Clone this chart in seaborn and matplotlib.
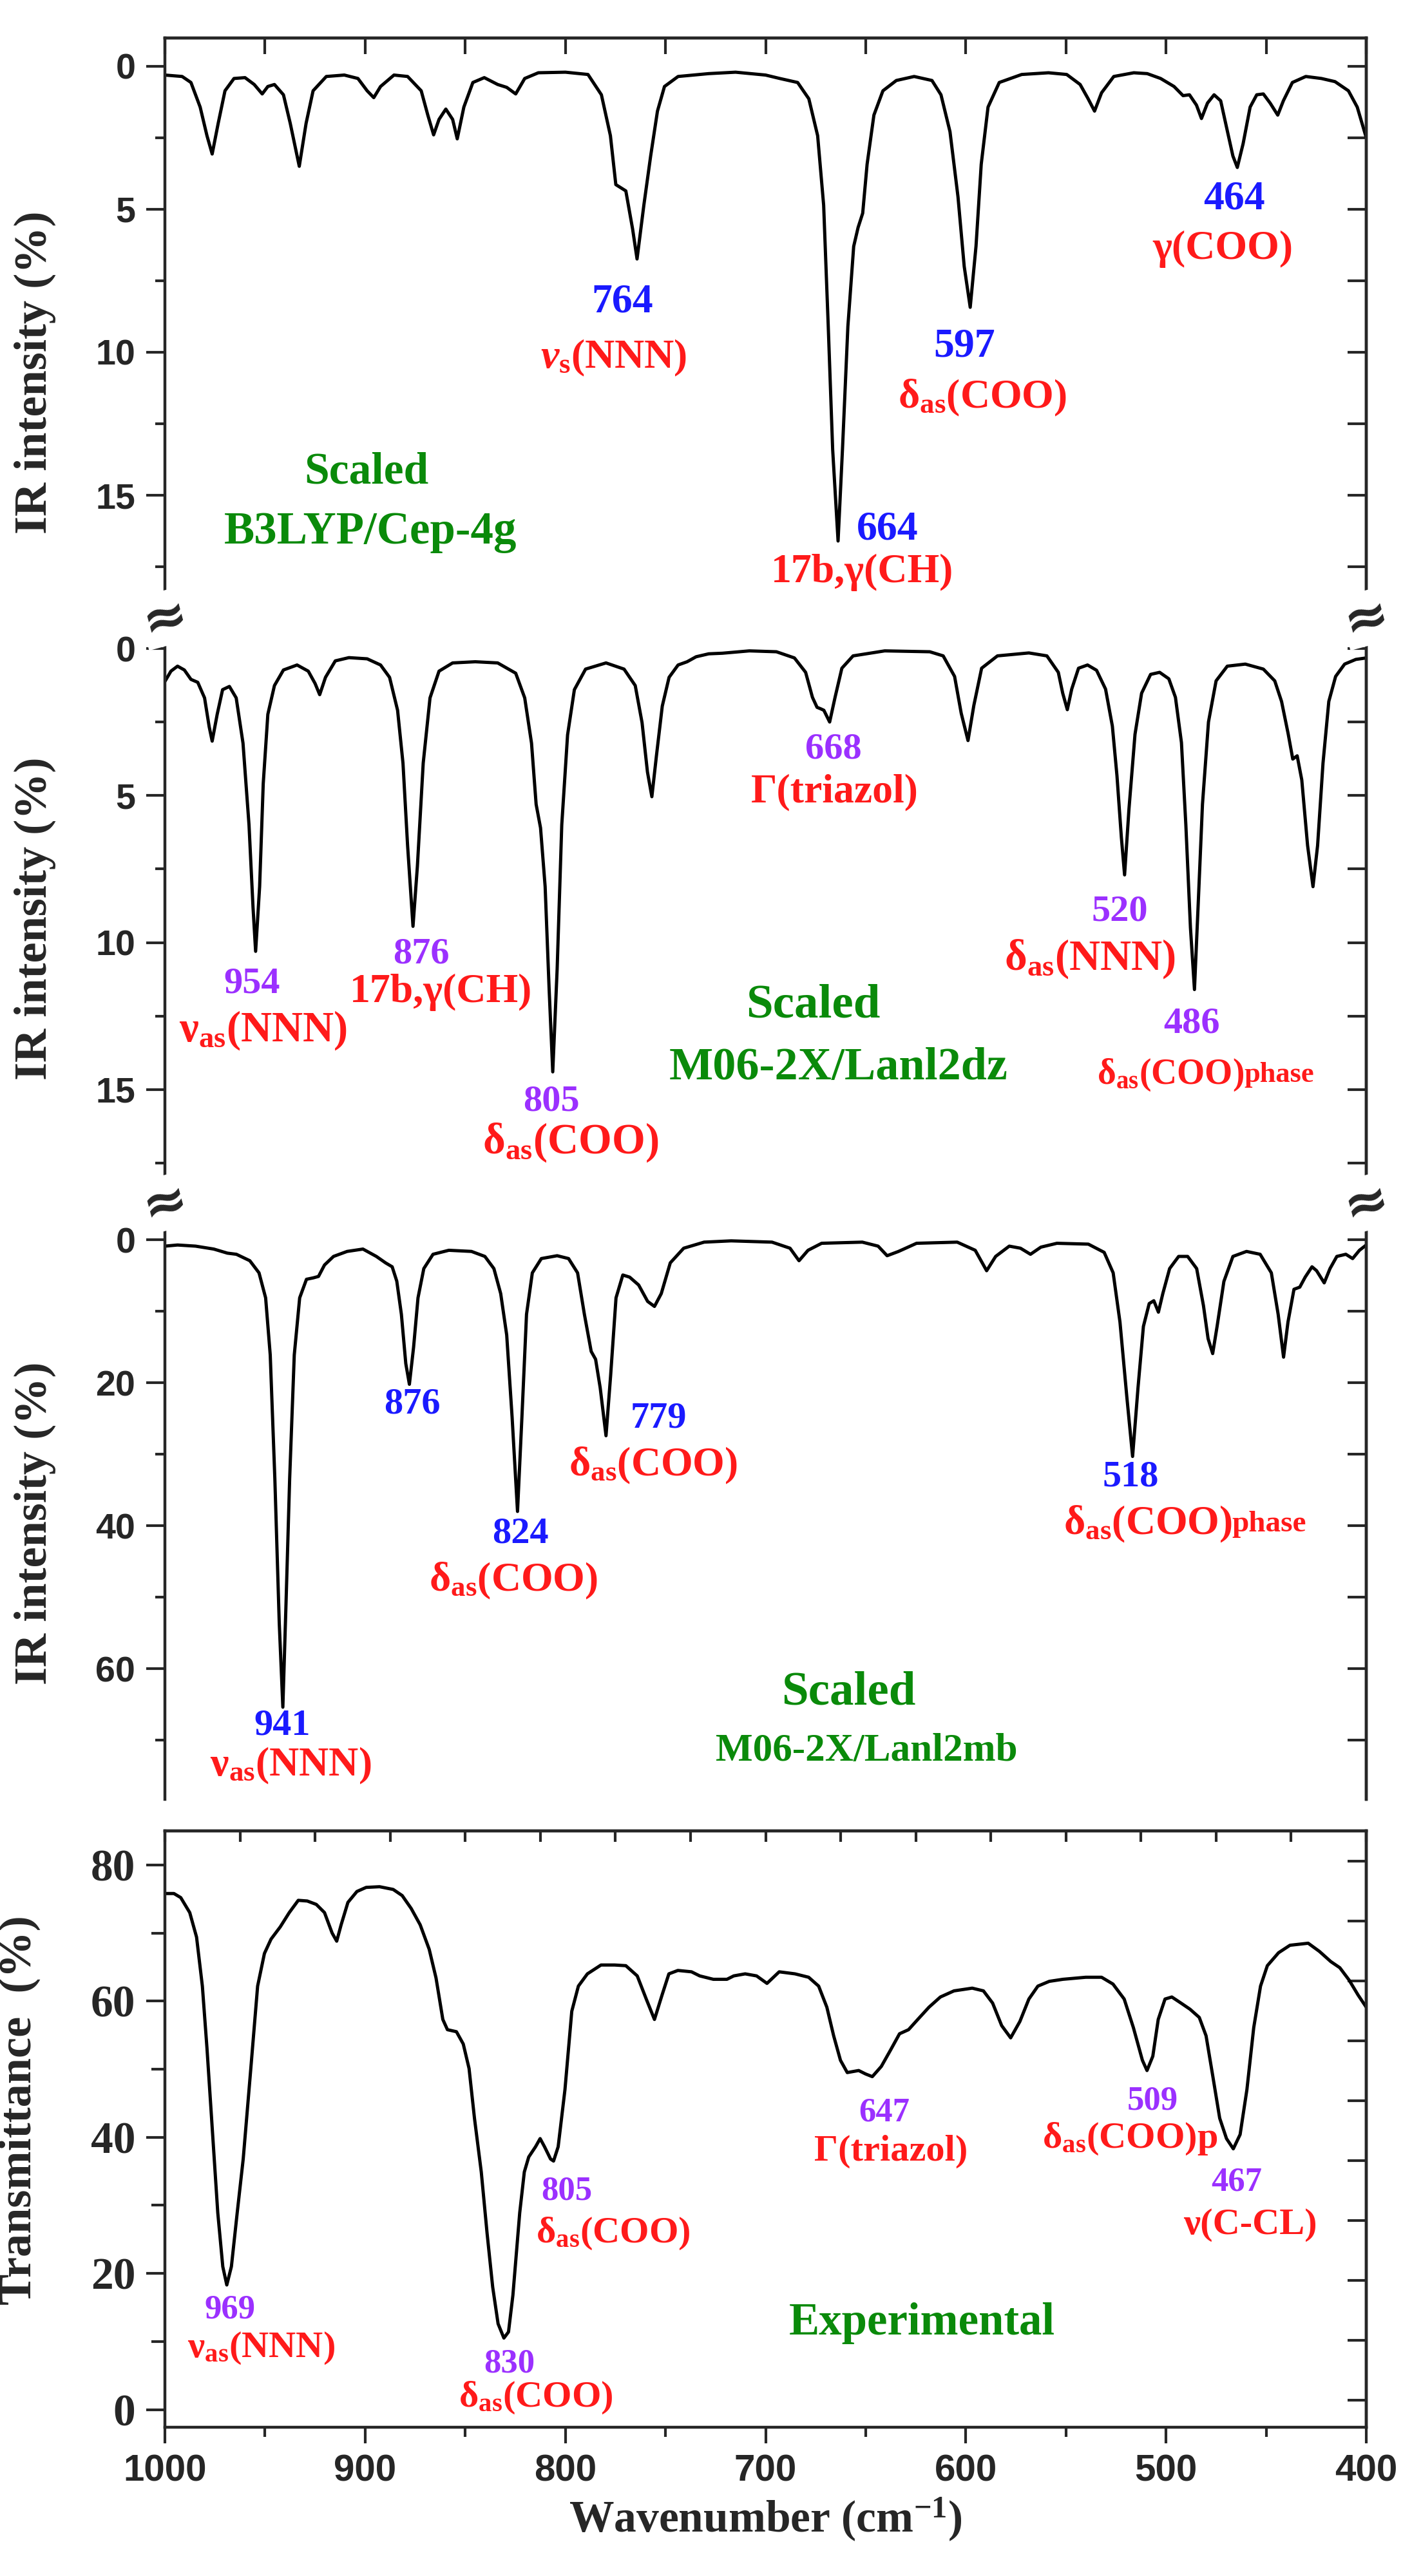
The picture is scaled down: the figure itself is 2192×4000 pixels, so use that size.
import numpy as np
import pandas as pd
import matplotlib
matplotlib.use("Agg")
import matplotlib.pyplot as plt
import seaborn as sns
from matplotlib.ticker import MultipleLocator, FixedLocator

sns.set_style("ticks")
plt.rcParams["font.family"] = ["Liberation Serif", "DejaVu Serif"]
plt.rcParams["font.weight"] = "bold"
plt.rcParams["mathtext.fontset"] = "custom"
plt.rcParams["mathtext.rm"] = "Liberation Serif:bold"
plt.rcParams["mathtext.it"] = "Liberation Serif:bold:italic"
plt.rcParams["mathtext.bf"] = "Liberation Serif:bold"

# B3LYP/Cep-4g spectrum (wavenumber, IR intensity %)
wn_b3lyp = [1000, 991.4, 987, 982.4, 979, 976.4, 973.4, 970, 965.5, 960, 955.4, 951.4, 948.6,
            945.3, 940.8, 937.4, 932.9, 929.5, 926, 919.4, 910.4, 903.6, 899, 895.7, 892.3,
            885.6, 878.8, 872, 868.7, 865.8, 863.1, 859.7, 856.3, 854, 850.7, 846.2, 840.5,
            833.8, 829.3, 824.8, 820.3, 813.5, 800, 788.7, 782, 777.5, 774.8, 769.8, 766.4,
            764.2, 760.8, 757.4, 754, 750.5, 743.7, 728.4, 715, 700, 692.9, 684, 678.4, 674,
            671, 668.7, 666.5, 663.8, 661.6, 658.9, 656, 653.8, 651.5, 649.3, 645.9, 641.4,
            634.7, 625.8, 616.9, 612.4, 607.9, 603.9, 600.8, 597.8, 594.9, 592.3, 588.9, 583.3,
            572.1, 558.7, 549.6, 542.9, 538.9, 535.7, 532.2, 526.1, 516.1, 509.4, 502.7, 496,
            491.5, 488.3, 484.8, 482.3, 479.3, 476, 472.7, 469.3, 466.6, 464.4, 461.5, 458,
            454.7, 451.4, 448, 444.2, 441.4, 436.9, 430.2, 422.4, 415.6, 408.9, 404.5, 400]
int_b3lyp = [0.31, 0.36, 0.57, 1.43, 2.43, 3.07, 2.0, 0.86, 0.43, 0.4, 0.64, 0.97, 0.71,
             0.64, 1.0, 2.0, 3.5, 2.0, 0.86, 0.36, 0.31, 0.43, 0.86, 1.1, 0.71,
             0.31, 0.36, 0.86, 1.71, 2.4, 1.86, 1.5, 1.86, 2.54, 1.43, 0.57, 0.4,
             0.64, 0.74, 0.97, 0.43, 0.23, 0.21, 0.29, 1.0, 2.43, 4.14, 4.36, 5.7,
             6.74, 4.86, 3.14, 1.57, 0.71, 0.36, 0.26, 0.21, 0.31, 0.43, 0.57, 1.14, 2.43,
             4.86, 9.1, 13.4, 16.6, 13.4, 9.1, 6.3, 5.64, 5.14, 3.43, 1.71, 0.86,
             0.5, 0.36, 0.5, 1.0, 2.29, 4.57, 7.0, 8.43, 6.29, 3.43, 1.43, 0.57,
             0.29, 0.23, 0.29, 0.64, 1.14, 1.57, 0.93, 0.36, 0.23, 0.26, 0.43, 0.71,
             1.03, 1.0, 1.36, 1.83, 1.29, 1.0, 1.21, 2.29, 3.14, 3.54, 2.71, 1.43,
             1.0, 0.97, 1.29, 1.71, 1.21, 0.57, 0.36, 0.43, 0.54, 0.86, 1.43, 2.5]

# M06-2X/Lanl2dz spectrum
wn_lanl2dz = [1000, 997, 993.7, 990.3, 987, 983.6, 980.2, 977.9, 976.4, 973.9, 971.2, 967.8,
              964.4, 961, 958, 956, 954.7, 952.7, 950.9, 948.6, 945.3, 940.8, 934, 928.4, 925,
              922.7, 919.8, 914.9, 908.1, 899, 892.3, 887.8, 883.8, 881.1, 878.8, 876.1, 873.9,
              871, 867.6, 863.1, 856.3, 845, 833.8, 824.8, 820.3, 816.9, 814.6, 812.4, 810.1,
              808.1, 806.3, 804.1, 801.8, 798.9, 795.5, 789.9, 779.7, 770.7, 765.1, 761.7, 759,
              756.8, 754.5, 751.6, 748.2, 743.7, 739.2, 734.7, 728.4, 721.6, 708.1, 694.6, 685.6,
              680, 676.6, 674.3, 672.5, 670.9, 668, 665.3, 661.9, 656.3, 640.5, 618, 611.3,
              605.6, 602.3, 598.9, 596, 592.1, 584.2, 568.5, 559.5, 553.8, 551.6, 549.3, 547.1,
              543.7, 539.2, 534.7, 530.2, 526.8, 524.5, 522.3, 520.7, 518.5, 515.5, 512.2,
              507.7, 503.2, 498.6, 495.3, 492.3, 490.1, 487.8, 485.8, 484, 481.8, 478.8, 475,
              469.4, 460.4, 451.4, 445.7, 442.3, 439, 436.7, 434.5, 432.2, 429.3, 426.6, 424.3,
              421.6, 418.7, 415.3, 410.8, 405.2, 400]
int_lanl2dz = [1.12, 0.77, 0.6, 0.73, 1.05, 1.15, 1.68, 2.66, 3.15, 2.24, 1.4, 1.29,
               1.68, 3.22, 6.0, 8.8, 10.3, 8.1, 4.6, 2.24, 1.26, 0.73, 0.56, 0.77, 1.19,
               1.57, 0.98, 0.42, 0.31, 0.35, 0.56, 0.98, 2.1, 3.9, 6.7, 9.45, 7.4,
               3.9, 1.68, 0.77, 0.49, 0.45, 0.49, 0.84, 1.68, 3.22, 5.3, 6.1, 8.1,
               11.6, 14.4, 10.9, 6.0, 2.94, 1.4, 0.7, 0.49, 0.7, 1.26, 2.52, 4.2,
               5.04, 3.64, 1.96, 0.98, 0.56, 0.45, 0.28, 0.18, 0.16, 0.08, 0.11, 0.32,
               0.81, 1.66, 2.0, 2.05, 2.1, 2.5, 1.66, 0.67, 0.25, 0.08, 0.11, 0.25,
               0.95, 2.2, 3.13, 1.94, 0.67, 0.25, 0.15, 0.25, 0.81, 1.52, 2.08, 1.38,
               0.67, 0.56, 0.74, 1.38, 2.64, 4.33, 6.43, 7.7, 5.45, 2.92, 1.52,
               0.88, 0.81, 1.03, 1.66, 3.2, 6.0, 9.5, 11.6, 8.8, 5.3, 2.5, 1.1,
               0.6, 0.53, 0.7, 1.1, 1.8, 2.9, 3.76, 3.65, 4.47, 6.7, 8.1, 6.7,
               3.9, 1.8, 0.95, 0.53, 0.37, 0.32]

# M06-2X/Lanl2mb spectrum
wn_lanl2mb = [1000, 993.7, 984.7, 975.6, 968.8, 964.3, 957.6, 953, 949.7, 947.4, 945.1, 942.9,
              941.1, 939.5, 937.7, 935.4, 932.7, 929.3, 925.9, 923.3, 920.3, 915.8, 909, 901.1,
              894.4, 889.8, 886.5, 884.2, 881.9, 879.7, 877.9, 875.8, 873.6, 870.7, 866.1,
              858.2, 846.9, 840.2, 835.7, 832.3, 829.3, 826.6, 823.9, 821.7, 819.4, 816.5, 812,
              804.1, 798.4, 793.9, 790.5, 787.1, 784.9, 782.6, 779.7, 777.4, 774.7, 771.3,
              767.9, 763.4, 758.9, 755.5, 752.1, 747.6, 740.9, 730.7, 717.2, 696.8, 687.8,
              683.3, 678.8, 672, 651.7, 643.8, 639.3, 633.6, 624.6, 604.3, 595.3, 589.6, 585.1,
              578.3, 572.7, 567.7, 562.5, 554.5, 538.8, 530.9, 526.4, 523, 519.6, 516.7, 514,
              511.3, 508.4, 506.1, 503.8, 501.6, 498.2, 493.7, 489.2, 484.7, 481.3, 479, 476.7,
              474.5, 471.1, 466.6, 459.8, 453, 447.4, 444, 441.3, 439.1, 436.1, 433.2, 430.5,
              427.1, 424.8, 421, 418.1, 414.7, 410.2, 406.8, 403.4, 400]
int_lanl2mb = [0.86, 0.7, 0.86, 1.27, 1.84, 2.0, 2.9, 4.6, 8.1, 16.1, 33.4, 53.6,
               65.4, 50.7, 33.4, 16.1, 8.1, 5.5, 5.3, 5.1, 3.5, 2.3, 1.6, 1.27,
               2.3, 3.2, 3.75, 5.76, 10.4, 17.3, 20.2, 15.0, 8.1, 4.0, 2.0,
               1.44, 1.6, 2.3, 4.0, 7.5, 13.3, 24.8, 38.0, 24.8, 10.4, 4.6, 2.6,
               2.2, 2.6, 4.6, 10.4, 15.6, 16.7, 20.7, 27.4, 19.0, 8.1, 4.9,
               5.2, 6.3, 8.6, 9.3, 7.5, 3.2, 1.15, 0.3, 0.12, 0.3, 1.15,
               2.9, 1.44, 0.46, 0.3, 0.86, 2.2, 1.6, 0.46, 0.3, 1.44, 4.3, 2.3,
               0.86, 1.15, 2.0, 1.0, 0.46, 0.58, 1.73, 4.6, 11.5, 21.9, 30.3, 20.7,
               12.1, 8.9, 8.5, 10.1, 7.5, 4.0, 2.3, 2.3, 4.0, 9.2, 13.8, 15.9,
               12.1, 5.8, 2.3, 1.6, 2.0, 4.6, 10.4, 16.4, 11.5, 6.9, 6.6, 5.2,
               3.75, 4.3, 6.0, 4.0, 2.3, 2.0, 2.6, 1.44, 0.7]

# Experimental spectrum (transmittance %)
wn_exp = [1000, 995.5, 992.1, 987.6, 984.2, 981.3, 979, 976.3, 973.6, 971.1, 969.1, 966.8, 963.9,
          960.9, 957.1, 953.7, 950.3, 947, 942.4, 937.9, 933.4, 928.9, 924.4, 920.3, 916.5,
          914.2, 912, 908.6, 904.1, 899.5, 892.8, 886, 881.5, 877, 872.5, 868, 864.6, 861.2,
          858.9, 854.4, 851, 848.1, 845.4, 842, 839.1, 836.3, 833.6, 830.7, 828.4, 826.2,
          822.8, 820.5, 818.3, 814.9, 812.6, 810.4, 807.4, 805.9, 803.6, 800.2, 796.8, 793.5,
          789, 782.2, 775.4, 769.8, 764.1, 759.6, 755.5, 751.7, 748.3, 743.8, 737, 732.9,
          726.1, 719.3, 715.9, 710.2, 704.5, 699.3, 693.2, 685.3, 678.5, 673.5, 669.4, 666,
          662.6, 659.2, 653.5, 650.1, 646.7, 642.2, 637.6, 633.1, 628.6, 624, 618.4, 612.7,
          605.9, 596.8, 591.2, 586.6, 582.1, 577.6, 573, 568.5, 564, 558.3, 551.5, 540.1,
          532.2, 526.5, 520.9, 516.3, 511.8, 509.5, 506.6, 503.9, 500.5, 497.1, 492.5, 488,
          483.4, 480, 476.6, 473.2, 469.8, 466.4, 463, 459.6, 456.2, 452.8, 449.4, 443.8,
          438.1, 429, 423.4, 417.7, 413.2, 408.6, 404.1, 400]
tr_exp = [75.8, 75.8, 75.2, 73.0, 69.4, 62.2, 53.1, 41.0, 28.9, 21.0, 18.3, 21.0, 28.9,
          36.8, 50.1, 62.2, 67.0, 69.1, 70.9, 73.0, 74.8, 74.7, 74.2, 73.0, 70.0,
          68.8, 71.2, 74.5, 76.1, 76.7, 76.8, 76.4, 75.5, 73.6, 71.2, 67.6, 63.4, 57.3,
          55.8, 55.5, 53.7, 50.1, 42.8, 34.9, 25.9, 18.0, 12.6, 10.5, 11.4, 16.8,
          28.9, 34.9, 37.1, 38.6, 39.8, 38.6, 36.8, 36.5, 38.6, 47.0, 58.5, 62.2,
          64.0, 65.3, 65.3, 65.2, 63.7, 60.3, 57.3, 60.9, 64.0, 64.5, 64.3, 63.7,
          63.2, 63.2, 63.7, 64.0, 63.7, 62.6, 64.3, 64.0, 63.5, 62.2, 59.1, 54.9,
          51.3, 49.5, 49.8, 49.3, 48.9, 50.4, 52.8, 55.2, 55.8, 57.3, 59.1, 60.6,
          61.5, 61.9, 61.5, 59.7, 56.4, 54.6, 57.0, 60.3, 62.2, 62.9, 63.2, 63.5,
          63.5, 62.5, 60.3, 56.1, 51.3, 49.8, 51.9, 57.3, 60.3, 60.6, 59.7, 58.8,
          57.6, 54.9, 48.9, 42.8, 39.8, 38.3, 40.4, 47.0, 56.1, 62.2, 65.2, 67.1,
          68.2, 68.5, 67.3, 65.8, 64.9, 63.1, 60.9, 59.1]

BLUE = "#1a1aff"
PURPLE = "#9b30ff"
RED = "#ff1a1a"
GREEN = "#0a8a0a"

fig = plt.figure(figsize=(10.96, 20), dpi=200)
L, W = 0.1168, 0.8508
ax1 = fig.add_axes([L, 0.7600, W, 0.2253])
ax2 = fig.add_axes([L, 0.5330, W, 0.2270])
ax3 = fig.add_axes([L, 0.3015, W, 0.2315])
ax4 = fig.add_axes([L, 0.05775, W, 0.2315])

panels = [
    (ax1, wn_b3lyp, int_b3lyp, (19.3, -0.99), 5, 2.5),
    (ax2, wn_lanl2dz, int_lanl2dz, (18.86, -1.03), 5, 2.5),
    (ax3, wn_lanl2mb, int_lanl2mb, (78.3, -5.18), 20, 10),
    (ax4, wn_exp, tr_exp, (-2.6, 85), 20, 10),
]

for ax, xs, ys, ylim, major, minor in panels:
    df = pd.DataFrame({"wn": xs, "val": ys})
    sns.lineplot(data=df, x="wn", y="val", ax=ax, color="black", lw=1.8, estimator=None)
    ax.set_xlim(1000, 400)
    ax.set_ylim(*ylim)
    ax.yaxis.set_major_locator(MultipleLocator(major))
    ax.yaxis.set_minor_locator(MultipleLocator(minor))
    ax.tick_params(axis="y", which="major", direction="out", length=10.5, width=1.5,
                   labelsize=20, right=False, pad=6, labelfontfamily="Liberation Sans")
    ax.tick_params(axis="y", which="minor", direction="out", length=5.5, width=1.5, right=False)
    for sp in ax.spines.values():
        sp.set_linewidth(1.6)
    ax.set_xlabel("")

# inward ticks on the right side
for ax, step in ((ax1, 2.5), (ax2, 2.5), (ax3, 10)):
    ry = ax.secondary_yaxis("right")
    ry.yaxis.set_major_locator(MultipleLocator(step))
    ry.tick_params(direction="in", length=10.5, width=1.5, labelright=False)
    ry.spines["right"].set_linewidth(1.6)
ry4 = ax4.secondary_yaxis("right")
ry4.yaxis.set_major_locator(FixedLocator([1.4, 10.2, 19.0, 27.8, 36.6, 45.4, 54.2, 63.0, 71.8, 80.6]))
ry4.tick_params(direction="in", length=10.5, width=1.5, labelright=False)
ry4.spines["right"].set_linewidth(1.6)

for ax in (ax1, ax2, ax3):
    ax.set_ylabel("IR intensity (%)", fontsize=26, fontweight="bold")
    ax.spines["bottom"].set_visible(False)
    ax.tick_params(axis="x", which="both", bottom=False, labelbottom=False)
for ax in (ax2, ax3):
    ax.spines["top"].set_visible(False)
ax1.yaxis.set_label_coords(-0.0906, 0.424)
ax2.yaxis.set_label_coords(-0.0906, 0.487)
ax3.yaxis.set_label_coords(-0.0906, 0.463)

# top inward ticks
tx1 = ax1.secondary_xaxis("top")
tx1.xaxis.set_major_locator(MultipleLocator(50))
tx1.tick_params(direction="in", length=9, width=1.5, labeltop=False)
tx1.spines["top"].set_linewidth(1.6)
tx4 = ax4.secondary_xaxis("top")
tx4.xaxis.set_major_locator(FixedLocator(np.arange(400, 1000.1, 37.5)))
tx4.tick_params(direction="in", length=6, width=1.5, labeltop=False)
tx4.spines["top"].set_linewidth(1.6)

# experimental panel axes
ax4.xaxis.set_major_locator(MultipleLocator(100))
ax4.xaxis.set_minor_locator(MultipleLocator(50))
ax4.tick_params(axis="x", which="major", direction="out", length=9, width=1.5, labelsize=21,
                pad=6, labelfontfamily="Liberation Sans")
ax4.tick_params(axis="x", which="minor", direction="out", length=5.5, width=1.5)
ax4.tick_params(axis="y", which="major", labelsize=25, length=10.5,
                labelfontfamily="Liberation Serif")
ax4.tick_params(axis="y", which="minor", length=7.5)
ax4.set_xlabel("Wavenumber (cm$^{\\mathrm{-1}}$)", fontsize=25, fontweight="bold")
ax4.set_ylabel("Transmittance  (%)", fontsize=26, fontweight="bold")
ax4.yaxis.set_label_coords(-0.1035, 0.532)


def lab(ax, x, y, s, color, size, ha="center"):
    ax.text(x, y, s, color=color, fontsize=size, fontweight="bold", ha=ha, va="center")


# panel 1 annotations
lab(ax1, 771.4, 8.25, "764", BLUE, 23)
lab(ax1, 775.9, 10.2, "$\\mathit{\\nu}_{\\mathrm{s}}$(NNN)", RED, 23)
lab(ax1, 639, 16.2, "664", BLUE, 23)
lab(ax1, 651.6, 17.7, "17b,γ(CH)", RED, 23)
lab(ax1, 600.8, 9.8, "597", BLUE, 23)
lab(ax1, 591.8, 11.6, "δ$_{\\mathrm{as}}$(COO)", RED, 23)
lab(ax1, 466, 4.66, "464", BLUE, 23)
lab(ax1, 471.5, 6.4, "γ(COO)", RED, 23)
lab(ax1, 899.4, 14.2, "Scaled", GREEN, 25)
lab(ax1, 897.2, 16.3, "B3LYP/Cep-4g", GREEN, 25.5)

# panel 2 annotations
lab(ax2, 956.4, 11.4, "954", PURPLE, 21)
lab(ax2, 951, 13.0, "ν$_{\\mathrm{as}}$(NNN)", RED, 24)
lab(ax2, 872, 10.4, "876", PURPLE, 21)
lab(ax2, 862, 11.7, "17b,γ(CH)", RED, 23)
lab(ax2, 806.9, 15.4, "805", PURPLE, 21)
lab(ax2, 797.5, 16.8, "δ$_{\\mathrm{as}}$(COO)", RED, 24)
lab(ax2, 666, 3.43, "668", PURPLE, 21)
lab(ax2, 665.5, 4.9, "Γ(triazol)", RED, 23)
lab(ax2, 523, 8.94, "520", PURPLE, 21)
lab(ax2, 538, 10.56, "δ$_{\\mathrm{as}}$(NNN)", RED, 24)
lab(ax2, 487.2, 12.76, "486", PURPLE, 21)
ax2.text(461, 14.5, "δ$_{\\mathrm{as}}$(COO)", color=RED, fontsize=20, fontweight="bold",
         ha="right", va="center")
ax2.text(461, 14.5, "phase", color=RED, fontsize=16, fontweight="bold", ha="left", va="center")
lab(ax2, 676.2, 12.15, "Scaled", GREEN, 27)
lab(ax2, 663.7, 14.26, "M06-2X/Lanl2dz", GREEN, 26)

# panel 3 annotations
lab(ax3, 876.5, 23, "876", BLUE, 21)
lab(ax3, 822.4, 41.1, "824", BLUE, 21)
lab(ax3, 826, 47.7, "δ$_{\\mathrm{as}}$(COO)", RED, 23)
lab(ax3, 753.4, 25, "779", BLUE, 21)
lab(ax3, 756, 31.6, "δ$_{\\mathrm{as}}$(COO)", RED, 23)
lab(ax3, 517.6, 33.2, "518", BLUE, 21)
ax3.text(467, 39.8, "δ$_{\\mathrm{as}}$(COO)", color=RED, fontsize=23, fontweight="bold",
         ha="right", va="center")
ax3.text(467, 39.8, "phase", color=RED, fontsize=17, fontweight="bold", ha="left", va="center")
lab(ax3, 941.4, 68, "941", BLUE, 21)
lab(ax3, 937.3, 73.6, "ν$_{\\mathrm{as}}$(NNN)", RED, 23)
lab(ax3, 658.7, 63.4, "Scaled", GREEN, 27)
lab(ax3, 649.7, 71.5, "M06-2X/Lanl2mb", GREEN, 22)

# panel 4 annotations
lab(ax4, 967.5, 14.7, "969", PURPLE, 19)
lab(ax4, 951.8, 9.0, "ν$_{\\mathrm{as}}$(NNN)", RED, 21)
lab(ax4, 827.8, 6.7, "830", PURPLE, 19)
lab(ax4, 814.7, 1.7, "δ$_{\\mathrm{as}}$(COO)", RED, 21)
lab(ax4, 799.4, 32.1, "805", PURPLE, 19)
lab(ax4, 776, 25.8, "δ$_{\\mathrm{as}}$(COO)", RED, 21)
lab(ax4, 640.7, 43.6, "647", PURPLE, 19)
lab(ax4, 637.5, 37.9, "Γ(triazol)", RED, 21)
lab(ax4, 506.8, 45.3, "509", PURPLE, 19)
lab(ax4, 518, 39.8, "δ$_{\\mathrm{as}}$(COO)p", RED, 21)
lab(ax4, 464.8, 33.4, "467", PURPLE, 19)
lab(ax4, 458, 27.1, "ν(C-CL)", RED, 21)
lab(ax4, 622, 12.7, "Experimental", GREEN, 25.5)

# axis break marks between the stacked theoretical panels
for yb in (0.7600, 0.5330):
    for xb in (L, L + W):
        fig.text(xb, yb, "≈", fontsize=30, fontweight="bold", family="DejaVu Sans",
                 ha="center", va="center", rotation=15,
                 bbox=dict(facecolor="white", edgecolor="none", pad=0.5))

fig.savefig("out.png", dpi=200)
